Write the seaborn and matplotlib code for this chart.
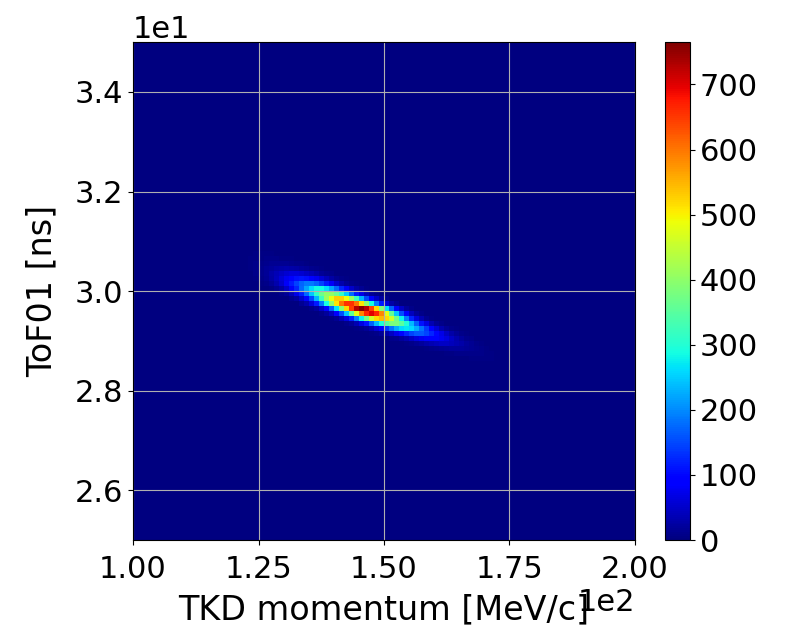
import numpy as np
import matplotlib
matplotlib.use("Agg")
import matplotlib.pyplot as plt
import seaborn as sns

# Histogram binning (1 MeV/c x 0.1 ns)
momentum_edges = np.arange(100, 201, 1)
tof_edges = np.round(np.arange(25.0, 35.01, 0.1), 1)

# Lower edge of each populated ToF row [ns]
tof_rows = [30.7, 30.6, 30.5, 30.4, 30.3, 30.2, 30.1, 30.0, 29.9, 29.8, 29.7,
            29.6, 29.5, 29.4, 29.3, 29.2, 29.1, 29.0, 28.9, 28.8, 28.7, 28.6]
# First populated momentum bin (lower edge) of each row [MeV/c]
row_start = [20, 20, 20, 21, 22, 23, 25, 27, 29, 31, 33,
             35, 37, 39, 42, 44, 47, 49, 52, 56, 59, 63]
# Counts, row by row
row_counts = [
    [1, 1, 2, 2, 3, 3, 3, 3, 2, 2, 1, 1],
    [1, 1, 2, 3, 4, 5, 6, 6, 6, 5, 4, 3, 2, 1, 1],
    [1, 1, 2, 4, 6, 8, 11, 13, 14, 14, 13, 11, 8, 6, 4, 2, 1, 1],
    [1, 2, 4, 7, 11, 15, 20, 25, 29, 30, 29, 25, 20, 15, 11, 7, 4, 2, 1],
    [1, 2, 6, 11, 17, 27, 37, 47, 56, 61, 61, 56, 47, 37, 27, 17, 11, 6, 2, 1],
    [1, 3, 7, 13, 25, 39, 57, 76, 94, 106, 112, 106, 94, 76, 57, 39, 25, 13, 7, 3, 1],
    [3, 8, 17, 32, 53, 82, 114, 144, 171, 186, 186, 171, 144, 114, 82, 53, 32, 17, 8, 3],
    [5, 12, 26, 49, 81, 125, 174, 220, 261, 284, 284, 261, 220, 174, 125, 81, 49, 26, 12, 5],
    [7, 16, 37, 70, 115, 176, 246, 312, 369, 402, 402, 369, 312, 246, 176, 115, 70, 37, 16, 7],
    [10, 22, 49, 92, 151, 232, 324, 410, 486, 529, 529, 486, 410, 324, 232, 151, 92, 49, 22, 10],
    [12, 27, 60, 114, 188, 288, 402, 509, 603, 657, 657, 603, 509, 402, 288, 188, 114, 60, 27, 12],
    [8, 19, 46, 92, 168, 268, 390, 520, 643, 727, 765, 727, 643, 520, 390, 268, 168, 92, 46, 19, 8],
    [7, 18, 42, 84, 154, 245, 357, 476, 588, 665, 700, 665, 588, 476, 357, 245, 154, 84, 42, 18, 7],
    [5, 14, 33, 65, 120, 191, 278, 371, 458, 518, 545, 518, 458, 371, 278, 191, 120, 65, 33, 14, 5],
    [7, 16, 35, 66, 109, 168, 234, 296, 351, 382, 382, 351, 296, 234, 168, 109, 66, 35, 16, 7],
    [3, 7, 16, 32, 59, 95, 138, 184, 227, 257, 270, 257, 227, 184, 138, 95, 59, 32, 16, 7, 3],
    [3, 7, 15, 28, 46, 71, 99, 125, 149, 162, 162, 149, 125, 99, 71, 46, 28, 15, 7, 3],
    [1, 2, 6, 11, 20, 32, 47, 63, 77, 87, 92, 87, 77, 63, 47, 32, 20, 11, 6, 2, 1],
    [1, 2, 4, 8, 13, 20, 28, 35, 41, 45, 45, 41, 35, 28, 20, 13, 8, 4, 2, 1],
    [1, 2, 4, 7, 10, 14, 17, 19, 20, 19, 17, 14, 10, 7, 4, 2, 1],
    [1, 1, 2, 3, 5, 6, 7, 8, 8, 7, 6, 5, 3, 2, 1, 1],
    [1, 1, 2, 2, 3, 3, 3, 3, 3, 2, 2, 1, 1],
]

sns.set_theme(style="ticks")
plt.rcParams.update({
    "font.family": "DejaVu Sans",
    "font.size": 22,
    "axes.labelsize": 24,
    "xtick.labelsize": 22,
    "ytick.labelsize": 22,
    "text.color": "black",
    "axes.labelcolor": "black",
    "axes.edgecolor": "black",
    "axes.linewidth": 0.8,
    "axes.axisbelow": "line",
    "xtick.color": "black",
    "ytick.color": "black",
    "xtick.major.size": 3.5,
    "ytick.major.size": 3.5,
    "xtick.major.width": 0.8,
    "ytick.major.width": 0.8,
    "xtick.major.pad": 7,
    "grid.color": "#b0b0b0",
    "grid.linewidth": 0.8,
    "grid.linestyle": "-",
})

# Expand the row table into weighted bin centres
xs, ys, ws = [], [], []
for tof, start, counts in zip(tof_rows, row_start, row_counts):
    for i, c in enumerate(counts):
        xs.append(100 + start + i + 0.5)
        ys.append(tof + 0.05)
        ws.append(c)
# one empty entry per corner so every bin is drawn
xs += [100.5, 199.5]
ys += [25.05, 34.95]
ws += [0, 0]

fig = plt.figure(figsize=(7.88, 6.31), dpi=100)
ax = fig.add_axes([0.1688, 0.1442, 0.637, 0.789])
cax = fig.add_axes([0.8439, 0.1442, 0.0317, 0.789])

sns.histplot(x=np.array(xs), y=np.array(ys), weights=np.array(ws),
             bins=[momentum_edges, tof_edges], thresh=None,
             cmap=matplotlib.colormaps["jet"],
             vmin=0, cbar=True, cbar_ax=cax, ax=ax)

ax.set_xlim(100, 200)
ax.set_ylim(25, 35)
ax.set_xticks([100, 125, 150, 175, 200])
ax.set_yticks([26, 28, 30, 32, 34])
ax.ticklabel_format(style="sci", axis="both", scilimits=(0, 0))
ax.grid(True)
ax.set_xlabel("TKD momentum [MeV/c]", labelpad=7)
ax.set_ylabel("ToF01 [ns]", labelpad=12)
cax.grid(False)
cax.set_yticks([0, 100, 200, 300, 400, 500, 600, 700])
cax.tick_params(labelsize=22, pad=3.5)
for s in cax.spines.values():
    s.set_edgecolor("black")

fig.savefig("out.png", dpi=100)
plt.close(fig)
